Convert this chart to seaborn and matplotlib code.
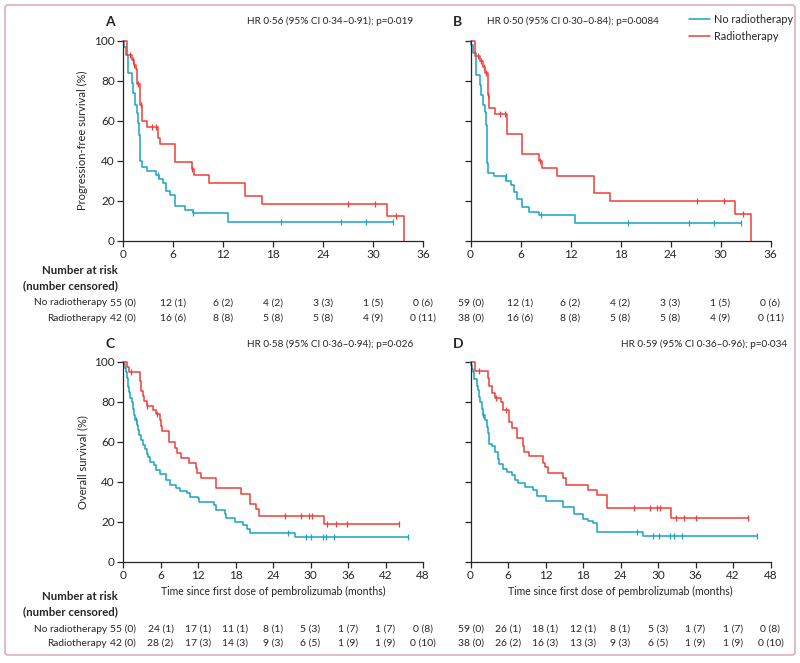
import numpy as np
import pandas as pd
import matplotlib
matplotlib.use("Agg")
import matplotlib.pyplot as plt
import matplotlib.transforms as mtransforms
from matplotlib.patches import FancyBboxPatch
from matplotlib.lines import Line2D
import seaborn as sns

# ---- data (months, survival %) ----
# Panel A: progression-free survival, cohort 1
a_no_t = [0.12, 0.36, 0.63, 1.03, 1.23, 1.43, 1.63, 1.83, 1.94, 2.02, 2.22, 2.82, 3.9, 4.29,
          4.8, 5.2, 5.6, 6.27, 7.38, 8.37, 12.54]
a_no_s = [97, 93, 84, 79, 74, 68, 64, 59, 53, 40, 37, 35, 33, 31, 29, 25, 23, 17.5, 15.5, 13.7, 9.2]
a_no_end = 32.4
a_no_cens = [4.2, 8.45, 18.9, 26.1, 29.1, 32.4]
a_rt_t = [0.52, 1.03, 1.3, 1.5, 1.67, 1.98, 2.22, 2.9, 4.2, 4.44, 6.27, 8.25, 8.5, 10.36,
          14.68, 16.72, 31.68, 33.68]
a_rt_s = [93, 90.5, 88, 85.7, 78.3, 67.8, 60, 57, 51.2, 48.3, 39.2, 36, 32.8, 28.8, 22.3,
          18.2, 12.2, 0]
a_rt_end = 33.68
a_rt_cens = [0.85, 1.2, 1.35, 1.8, 2.1, 3.45, 3.95, 8.32, 27.04, 30.24, 32.8]

# Panel B: progression-free survival, cohort 2
b_no_t = [0.08, 0.32, 0.71, 1.11, 1.31, 1.51, 1.71, 1.9, 2.02, 2.14, 2.78, 4.29, 4.88, 5.16,
          5.6, 6.2, 7.06, 8.25, 12.5]
b_no_s = [97.8, 93.6, 83, 77.8, 72.7, 67.7, 64.4, 58, 39, 34, 32.4, 30, 27.6, 24.2, 21, 16.7,
          14.2, 12.9, 8.7]
b_no_end = 32.5
b_no_cens = [4.2, 8.4, 18.93, 26.2, 29.2, 32.5]
b_rt_t = [0.55, 1.1, 1.55, 1.72, 2.04, 2.2, 2.93, 4.41, 6.21, 8.26, 8.55, 10.34, 14.76, 16.76,
          31.7, 33.7]
b_rt_s = [92.5, 90, 87, 84, 72.7, 66.5, 63.5, 53.5, 43.5, 40, 36.3, 32.3, 23.9, 19.7, 13.4, 0]
b_rt_end = 33.7
b_rt_cens = [0.95, 1.25, 1.6, 1.84, 2.13, 3.53, 4.13, 8.3, 27.2, 30.4, 32.7]

# Panel C: overall survival, cohort 1
c_no_t = [0.2, 0.32, 0.48, 0.64, 0.75, 0.86, 1.02, 1.18, 1.39, 1.55, 1.71, 1.9, 2.25, 2.46,
          2.62, 2.89, 3.27, 3.54, 3.91, 4.07, 4.34, 4.98, 5.25, 5.84, 6.9, 7.47, 8.43, 9.07,
          10.24, 10.67, 12.0, 12.16, 14.5, 14.93, 16.32, 16.43, 17.97, 19.2, 19.84, 20.27, 27.57]
c_no_s = [99, 97, 95, 92, 90, 87.5, 85, 82, 80, 76.7, 73.7, 70.8, 68.3, 65.8, 63.7, 60.8,
          58.7, 56.7, 54, 52.5, 50, 48.3, 45.8, 44, 41, 38.5, 37.1, 35.6, 34.3, 32.7, 31.8,
          30.1, 28.4, 26.2, 24.2, 22.2, 19.9, 18.4, 16.7, 14.7, 12.7]
c_no_end = 45.6
c_no_cens = [2.09, 26.4, 29.2, 30.1, 32.0, 32.4, 33.8, 45.6]
c_rt_t = [0.64, 0.96, 2.67, 2.9, 3.2, 3.35, 3.84, 4.8, 5.2, 5.87, 6.13, 6.29, 7.36, 8.27,
          8.6, 9.3, 10.6, 11.6, 11.9, 12.5, 14.9, 18.8, 20.3, 21.3, 21.7, 32.1]
c_rt_s = [97.6, 95.2, 90.3, 85.6, 82.8, 80.3, 78, 76, 74, 71, 68, 65.6, 60, 56.8, 54.7, 51.8,
          49.3, 46.8, 44.3, 41.8, 36.8, 33.9, 29, 26.4, 23.2, 18.9]
c_rt_end = 44.2
c_rt_cens = [1.2, 3.9, 5.4, 25.9, 28.5, 29.7, 30.2, 32.6, 34.0, 35.8, 44.2]

# Panel D: overall survival, cohort 2
d_no_t = [0.1, 0.25, 0.43, 0.59, 0.96, 1.12, 1.34, 1.5, 1.77, 1.95, 2.3, 2.57, 2.73, 2.95,
          3.37, 3.91, 4.34, 4.6, 5.25, 5.78, 6.7, 7.1, 7.64, 8.71, 10.05, 10.7, 12.08, 14.86,
          16.57, 18.07, 18.76, 19.67, 20.2, 27.58]
d_no_s = [98.3, 96.6, 94.9, 91.5, 88.1, 85.8, 82.5, 80, 76.7, 73.3, 70.8, 67.5, 64.7, 59.2,
          58, 55, 51.7, 49.2, 46.7, 45, 43.3, 41, 39.3, 37.6, 36, 33, 30.6, 27.6, 24.2, 21.7,
          20.5, 19.5, 15, 12.9]
d_no_end = 45.86
d_no_cens = [2.04, 26.6, 29.2, 30.2, 31.96, 32.5, 33.9, 45.86]
d_rt_t = [0.7, 2.73, 2.94, 3.37, 3.9, 4.86, 5.24, 6.15, 6.57, 7.38, 8.34, 8.55, 9.4, 11.54,
          11.92, 12.45, 14.86, 15.23, 18.87, 20.2, 21.91, 32.07]
d_rt_s = [95.3, 92, 88, 84.5, 82, 79.8, 76, 70.2, 67.2, 62, 58, 55, 53.2, 49.5, 47.3, 44.6,
          41.8, 38.5, 36, 33.4, 27.1, 22.1]
d_rt_end = 44.4
d_rt_cens = [1.3, 4.06, 5.67, 26.08, 28.75, 29.8, 30.36, 32.8, 34.2, 36.1, 44.4]

# numbers at risk (number censored)
a_no_risk = ["55 (0)", "12 (1)", "6 (2)", "4 (2)", "3 (3)", "1 (5)", "0 (6)"]
a_rt_risk = ["42 (0)", "16 (6)", "8 (8)", "5 (8)", "5 (8)", "4 (9)", "0 (11)"]
b_no_risk = ["59 (0)", "12 (1)", "6 (2)", "4 (2)", "3 (3)", "1 (5)", "0 (6)"]
b_rt_risk = ["38 (0)", "16 (6)", "8 (8)", "5 (8)", "5 (8)", "4 (9)", "0 (11)"]
c_no_risk = ["55 (0)", "24 (1)", "17 (1)", "11 (1)", "8 (1)", "5 (3)", "1 (7)", "1 (7)", "0 (8)"]
c_rt_risk = ["42 (0)", "28 (2)", "17 (3)", "14 (3)", "9 (3)", "6 (5)", "1 (9)", "1 (9)", "0 (10)"]
d_no_risk = ["59 (0)", "26 (1)", "18 (1)", "12 (1)", "8 (1)", "5 (3)", "1 (7)", "1 (7)", "0 (8)"]
d_rt_risk = ["38 (0)", "26 (2)", "16 (3)", "13 (3)", "9 (3)", "6 (5)", "1 (9)", "1 (9)", "0 (10)"]

hr_texts = ["HR 0\u00b756 (95% CI 0\u00b734\u20130\u00b791); p=0\u00b7019",
            "HR 0\u00b750 (95% CI 0\u00b730\u20130\u00b784); p=0\u00b70084",
            "HR 0\u00b758 (95% CI 0\u00b736\u20130\u00b794); p=0\u00b7026",
            "HR 0\u00b759 (95% CI 0\u00b736\u20130\u00b796); p=0\u00b7034"]

groups = ["No radiotherapy", "Radiotherapy"]
colors = {"No radiotherapy": "#1aa3c4", "Radiotherapy": "#ee4038"}

sns.set_style("ticks")
plt.rcParams["font.family"] = ["Lato", "DejaVu Sans"]

W, H = 800, 663
fig = plt.figure(figsize=(8, 6.63), dpi=100)


def fx(px):
    return px / W


def fy(py):
    return 1 - py / H


def step_frame(t, s, end):
    x = [0] + list(t) + [end]
    y = [100] + list(s) + [s[-1]]
    return x, y


def surv_at(t, s, c):
    out = []
    for ci in c:
        v = 100
        for ti, si in zip(t, s):
            if ti <= ci:
                v = si
        out.append(v)
    return out


def km_panel(ax, no, rt, xmax):
    rows = []
    for g, (t, s, end, _) in zip(groups, [no, rt]):
        x, y = step_frame(t, s, end)
        rows.append(pd.DataFrame({"time": x, "surv": y, "group": g}))
    df = pd.concat(rows, ignore_index=True)
    sns.lineplot(data=df, x="time", y="surv", hue="group", palette=colors,
                 estimator=None, sort=False, drawstyle="steps-post", lw=1.1,
                 legend=False, clip_on=False, ax=ax)
    for g, (t, s, end, c) in zip(groups, [no, rt]):
        ax.plot(c, surv_at(t, s, c), ls="none", marker="|", ms=5, mew=0.9,
                color=colors[g], clip_on=False)
    ax.set_xlim(0, xmax)
    ax.set_ylim(0, 100)
    ax.set_xticks(np.arange(0, xmax + 1, 6))
    ax.set_yticks(np.arange(0, 101, 20))
    ax.set_xlabel("")
    ax.set_ylabel("")
    sns.despine(ax=ax)
    for sp in ["left", "bottom"]:
        ax.spines[sp].set_linewidth(0.9)
    ax.tick_params(direction="out", length=4, width=0.9, labelsize=8.5, pad=2)


def risk_table(ax, no_risk, rt_risk, y_no, y_rt):
    tr = mtransforms.blended_transform_factory(ax.transData, fig.transFigure)
    for i, (a, b) in enumerate(zip(no_risk, rt_risk)):
        ax.text(i * 6, fy(y_no), a, transform=tr, ha="center", va="center", fontsize=7.5)
        ax.text(i * 6, fy(y_rt), b, transform=tr, ha="center", va="center", fontsize=7.5)


def risk_labels(y0):
    fig.text(fx(118), fy(y0), "Number at risk", ha="right", va="center",
             fontsize=8.2, fontweight="bold")
    fig.text(fx(118), fy(y0 + 16), "(number censored)", ha="right", va="center",
             fontsize=8.2, fontweight="bold")
    fig.text(fx(107), fy(y0 + 33), "No radiotherapy", ha="right", va="center", fontsize=7.3)
    fig.text(fx(107), fy(y0 + 48), "Radiotherapy", ha="right", va="center", fontsize=7.3)


axw, axh = 300, 200
ax_a = fig.add_axes([fx(123), fy(240.5), fx(axw), axh / H])
ax_b = fig.add_axes([fx(470.5), fy(240.5), fx(axw), axh / H])
ax_c = fig.add_axes([fx(123), fy(562), fx(axw), axh / H])
ax_d = fig.add_axes([fx(470.5), fy(562), fx(axw), axh / H])

km_panel(ax_a, (a_no_t, a_no_s, a_no_end, a_no_cens), (a_rt_t, a_rt_s, a_rt_end, a_rt_cens), 36)
km_panel(ax_b, (b_no_t, b_no_s, b_no_end, b_no_cens), (b_rt_t, b_rt_s, b_rt_end, b_rt_cens), 36)
km_panel(ax_c, (c_no_t, c_no_s, c_no_end, c_no_cens), (c_rt_t, c_rt_s, c_rt_end, c_rt_cens), 48)
km_panel(ax_d, (d_no_t, d_no_s, d_no_end, d_no_cens), (d_rt_t, d_rt_s, d_rt_end, d_rt_cens), 48)

for ax in [ax_b, ax_d]:
    ax.set_yticklabels([])

ax_a.set_ylabel("Progression-free survival (%)", fontsize=8, labelpad=4)
ax_c.set_ylabel("Overall survival (%)", fontsize=8, labelpad=4)
for ax in [ax_c, ax_d]:
    ax.set_xlabel("Time since first dose of pembrolizumab (months)", fontsize=7.6, labelpad=3)

# panel letters
for lab, (x, y) in zip("ABCD", [(110, 22), (458, 22), (110, 344), (458, 344)]):
    fig.text(fx(x), fy(y), lab, ha="center", va="center", fontsize=10, fontweight="bold")

# hazard ratios
fig.text(fx(413), fy(21), hr_texts[0], ha="right", va="center", fontsize=7.2)
fig.text(fx(487), fy(21), hr_texts[1], ha="left", va="center", fontsize=7.2)
fig.text(fx(413), fy(344), hr_texts[2], ha="right", va="center", fontsize=7.2)
fig.text(fx(787), fy(344), hr_texts[3], ha="right", va="center", fontsize=7.2)

# legend
handles = [Line2D([0], [0], color=colors[g], lw=1.1) for g in groups]
ax_b.legend(handles, groups, loc="upper left", bbox_to_anchor=(fx(689), fy(14)),
            bbox_transform=fig.transFigure, frameon=False, fontsize=7.8,
            handlelength=1.9, handletextpad=0.4, labelspacing=0.55, borderpad=0,
            borderaxespad=0)

# numbers at risk
risk_labels(270)
risk_table(ax_a, a_no_risk, a_rt_risk, 303, 318)
risk_table(ax_b, b_no_risk, b_rt_risk, 303, 318)
risk_labels(596)
risk_table(ax_c, c_no_risk, c_rt_risk, 629, 643)
risk_table(ax_d, d_no_risk, d_rt_risk, 629, 643)

# frame around the figure
frame = FancyBboxPatch((fx(5), fy(655)), fx(790), (650) / H,
                       boxstyle="round,pad=0,rounding_size=0.004",
                       transform=fig.transFigure, fill=False,
                       edgecolor="#d8a0b4", linewidth=1.0)
fig.patches.append(frame)

fig.savefig("out.png", dpi=100)
